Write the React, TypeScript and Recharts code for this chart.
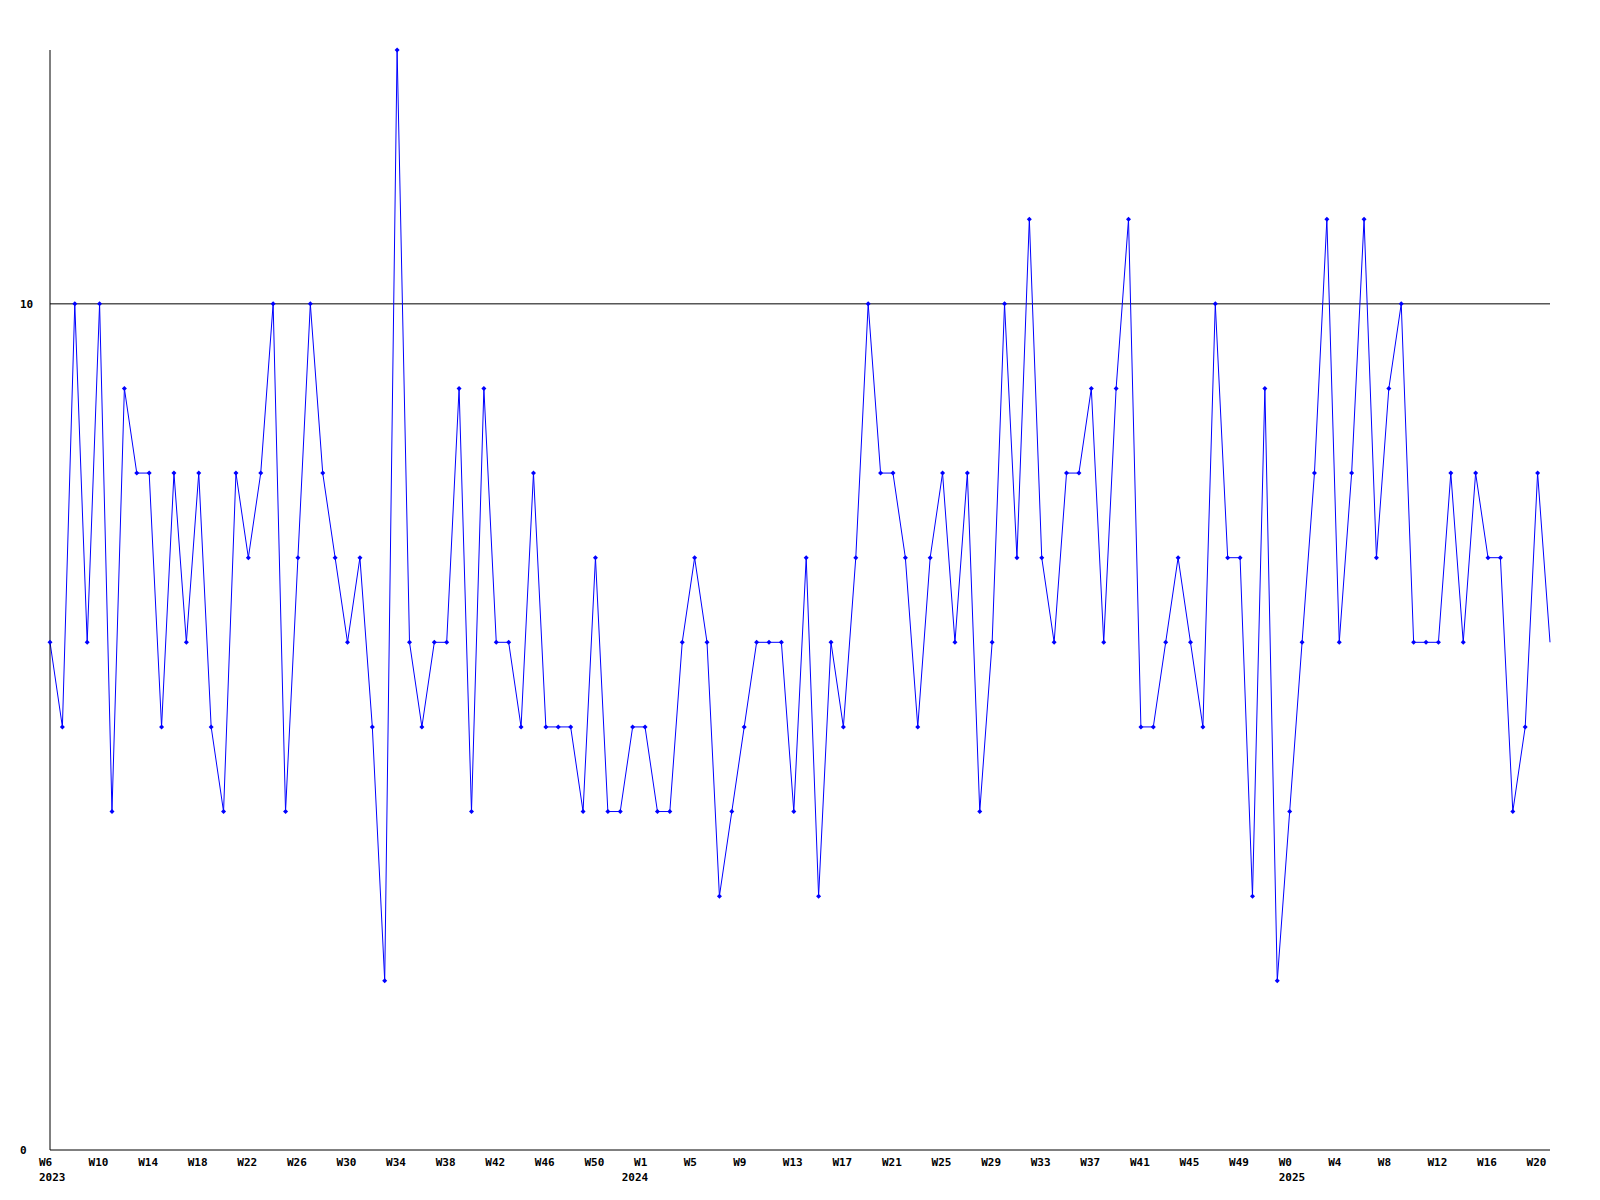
import React from "react";
import { LineChart, Line, XAxis, YAxis, ReferenceLine } from "recharts";

const years = ["2023", "2024", "2025"];

const weeks2023 = [
  "W6", "W7", "W8", "W9", "W10", "W11", "W12", "W13", "W14", "W15",
  "W16", "W17", "W18", "W19", "W20", "W21", "W22", "W23", "W24", "W25",
  "W26", "W27", "W28", "W29", "W30", "W31", "W32", "W33", "W34", "W35",
  "W36", "W37", "W38", "W39", "W40", "W41", "W42", "W43", "W44", "W45",
  "W46", "W47", "W48", "W49", "W50", "W51", "W52",
];
const weeks2024 = [
  "W0", "W1", "W2", "W3", "W4", "W5", "W6", "W7", "W8", "W9",
  "W10", "W11", "W12", "W13", "W14", "W15", "W16", "W17", "W18", "W19",
  "W20", "W21", "W22", "W23", "W24", "W25", "W26", "W27", "W28", "W29",
  "W30", "W31", "W32", "W33", "W34", "W35", "W36", "W37", "W38", "W39",
  "W40", "W41", "W42", "W43", "W44", "W45", "W46", "W47", "W48", "W49",
  "W50", "W51", "W52",
];
const weeks2025 = [
  "W0", "W1", "W2", "W3", "W4", "W5", "W6", "W7", "W8", "W9",
  "W10", "W11", "W12", "W13", "W14", "W15", "W16", "W17", "W18", "W19",
  "W20", "W21",
];

const values2023 = [
  6, 5, 10, 6, 10, 4, 9, 8, 8, 5,
  8, 6, 8, 5, 4, 8, 7, 8, 10, 4,
  7, 10, 8, 7, 6, 7, 5, 2, 13, 6,
  5, 6, 6, 9, 4, 9, 6, 6, 5, 8,
  5, 5, 5, 4, 7, 4, 4,
];
const values2024 = [
  5, 5, 4,
  4, 6, 7, 6, 3, 4, 5, 6, 6, 6,
  4, 7, 3, 6, 5, 7, 10, 8, 8, 7,
  5, 7, 8, 6, 8, 4, 6, 10, 7, 11,
  7, 6, 8, 8, 9, 6, 9, 11, 5, 5,
  6, 7, 6, 5, 10, 7, 7, 3, 9, 2,
];
const values2025 = [
  4, 6, 8, 11, 6, 8, 11, 7, 9, 10,
  6, 6, 6, 8, 6, 8, 7, 7, 4, 5,
  8, 6,
];

const yTicks = [0, 10];
const gridValue = 10;
const tickEvery = 4;

type Row = { i: number; year: string; week: string; value: number; firstOfYear: boolean };

const data: Row[] = [];
[
  [weeks2023, values2023],
  [weeks2024, values2024],
  [weeks2025, values2025],
].forEach(([wk, vals], yi) => {
  (wk as string[]).forEach((w, k) => {
    data.push({
      i: data.length,
      year: years[yi],
      week: w,
      value: (vals as number[])[k],
      firstOfYear: k === 0,
    });
  });
});

const xTicks = data.filter((d) => d.i % tickEvery === 0 || d.firstOfYear).map((d) => d.i);

const FONT = "'DejaVu Sans Mono', monospace";

const XTick = (props: any) => {
  const { x, y, payload } = props;
  const row = data[payload.value];
  if (!row) return null;
  return (
    <g>
      {row.i % tickEvery === 0 && (
        <text x={x - 11} y={y + 16} textAnchor="start" fontFamily={FONT} fontWeight="bold" fontSize={11} fill="#000">
          {row.week}
        </text>
      )}
      {row.firstOfYear && (
        <text x={x - 11} y={y + 31} textAnchor="start" fontFamily={FONT} fontWeight="bold" fontSize={11} fill="#000">
          {row.year}
        </text>
      )}
    </g>
  );
};

const YTick = (props: any) => {
  const { x, y, payload } = props;
  return (
    <text x={x - 30} y={y + 4} textAnchor="start" fontFamily={FONT} fontWeight="bold" fontSize={11} fill="#000">
      {payload.value}
    </text>
  );
};

const Dot = (props: any) => {
  const { cx, cy, index } = props;
  if (index === data.length - 1 || cx == null || cy == null) return <g key={index} />;
  const r = 2.5;
  return (
    <path
      key={index}
      d={`M${cx - r},${cy} L${cx},${cy - r} L${cx + r},${cy} L${cx},${cy + r} Z`}
      fill="#0000ff"
      stroke="none"
    />
  );
};

export default function App() {
  return (
    <div style={{ position: "absolute", left: 0, top: 0, background: "#fff" }}>
      <LineChart width={1600} height={1200} data={data} margin={{ top: 50, right: 50, left: 0, bottom: 0 }}>
        <XAxis
          type="number"
          dataKey="i"
          domain={[0, data.length - 1]}
          ticks={xTicks}
          interval={0}
          height={50}
          axisLine={{ stroke: "#000" }}
          tickLine={false}
          tickSize={0}
          tickMargin={0}
          tick={<XTick />}
        />
        <YAxis
          type="number"
          domain={[0, 13]}
          ticks={yTicks}
          width={50}
          axisLine={{ stroke: "#000" }}
          tickLine={false}
          tickSize={0}
          tickMargin={0}
          tick={<YTick />}
        />
        <ReferenceLine y={gridValue} stroke="#000" strokeWidth={1} />
        <Line
          type="linear"
          dataKey="value"
          stroke="#0000ff"
          strokeWidth={1}
          dot={<Dot />}
          activeDot={false}
          isAnimationActive={false}
        />
      </LineChart>
    </div>
  );
}
